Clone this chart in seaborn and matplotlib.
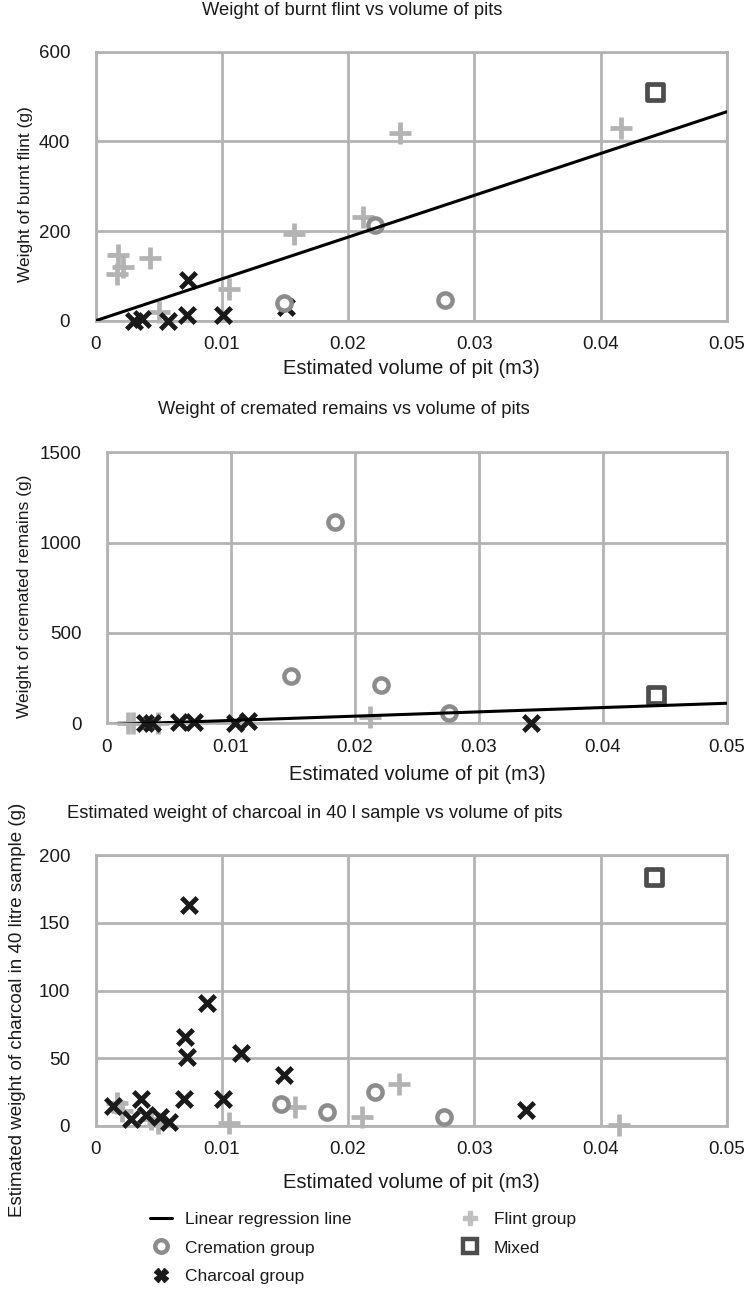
import numpy as np
import pandas as pd
import matplotlib
matplotlib.use("Agg")
import matplotlib.pyplot as plt
import seaborn as sns
from matplotlib.lines import Line2D

# ---------------- data ----------------
x_ticks = [0, 0.01, 0.02, 0.03, 0.04, 0.05]
x_tick_labels = ["0", "0.01", "0.02", "0.03", "0.04", "0.05"]

# Panel 1: burnt flint
p1_flint_vol = [0.0018, 0.0022, 0.0017, 0.0043, 0.0050, 0.0106, 0.0157, 0.0212, 0.0241, 0.0416]
p1_flint_wt = [146, 120, 105, 139, 20, 70, 194, 231, 418, 430]
p1_crem_vol = [0.0149, 0.0221, 0.0277]
p1_crem_wt = [40, 213, 47]
p1_char_vol = [0.0030, 0.0037, 0.0057, 0.0072, 0.0073, 0.0101, 0.0151]
p1_char_wt = [0, 3, 0, 13, 90, 13, 30]
p1_mixed_vol = [0.0443]
p1_mixed_wt = [511]
p1_reg_x = [0.0, 0.05]
p1_reg_y = [0.0, 466.0]
p1_yticks = [0, 200, 400, 600]

# Panel 2: cremated remains
p2_flint_vol = [0.0017, 0.0021, 0.0041, 0.0212]
p2_flint_wt = [0, 0, 3, 37]
p2_crem_vol = [0.0148, 0.0184, 0.0221, 0.0276]
p2_crem_wt = [262, 1116, 212, 55]
p2_char_vol = [0.0031, 0.0036, 0.0058, 0.0070, 0.0103, 0.0114, 0.0342]
p2_char_wt = [0, 3, 5, 5, 0, 10, 0]
p2_mixed_vol = [0.0443]
p2_mixed_wt = [157]
p2_reg_x = [0.0, 0.05]
p2_reg_y = [-8.0, 111.0]
p2_yticks = [0, 500, 1000, 1500]

# Panel 3: charcoal
p3_flint_vol = [0.0017, 0.0021, 0.0044, 0.0049, 0.0106, 0.0158, 0.0211, 0.0240, 0.0415]
p3_flint_wt = [17, 11, 5, 2, 2, 14, 7, 31, 1]
p3_crem_vol = [0.0147, 0.0183, 0.0221, 0.0276]
p3_crem_wt = [16, 10, 25, 7]
p3_char_vol = [0.0014, 0.0028, 0.0036, 0.0040, 0.0051, 0.0058, 0.0070,
               0.0072, 0.0071, 0.0074, 0.0088, 0.0101, 0.0115, 0.0149, 0.0341]
p3_char_wt = [15, 5, 20, 8, 7, 3, 20, 51, 66, 163, 91, 20, 54, 38, 12]
p3_mixed_vol = [0.0442]
p3_mixed_wt = [184]
p3_yticks = [0, 50, 100, 150, 200]

titles = ["Weight of burnt flint vs volume of pits",
          "Weight of cremated remains vs volume of pits",
          "Estimated weight of charcoal in 40 l sample vs volume of pits"]
ylabels = ["Weight of burnt flint (g)",
           "Weight of cremated remains (g)",
           "Estimated weight of charcoal in 40 litre sample (g)"]
xlabel = "Estimated volume of pit (m3)"
legend_labels = ["Linear regression line", "Cremation group", "Charcoal group",
                 "Flint group", "Mixed"]

# ---------------- style ----------------
sns.set_theme(style="white")
plt.rcParams['font.family'] = ['Liberation Sans', 'DejaVu Sans']
TXT = "#1a1a1a"
GRID = "#b3b3b3"
FLINT = "#b3b3b3"
CREM = "#8c8c8c"
CHAR = "#1a1a1a"
MIXED = "#4d4d4d"

W, H = 745, 1291
fig = plt.figure(figsize=(W / 100, H / 100), dpi=100)


def axes_px(l, t, r, b):
    return fig.add_axes([l / W, 1 - b / H, (r - l) / W, (b - t) / H])


def draw_points(ax, fv, fw, cv, cw, hv, hw, mv, mw):
    sns.scatterplot(x=hv, y=hw, ax=ax, marker="x", s=125, color=CHAR,
                    linewidth=3.5, zorder=4)
    sns.scatterplot(x=fv, y=fw, ax=ax, marker="+", s=240, color=FLINT,
                    linewidth=3.4, zorder=3)
    sns.scatterplot(x=cv, y=cw, ax=ax, marker="o", s=105, facecolor="white",
                    edgecolor=CREM, linewidth=3.2, zorder=5)
    sns.scatterplot(x=mv, y=mw, ax=ax, marker="s", s=120, facecolor="white",
                    edgecolor=MIXED, linewidth=3.4, zorder=5)


def style_axes(ax, box, yticks, title, title_px, ylabel, ylabel_px, ylabel_size, xlabel_y):
    l, t, r, b = box
    ax.set_xlim(0, 0.05)
    ax.set_ylim(yticks[0], yticks[-1])
    ax.set_xticks(x_ticks)
    ax.set_xticklabels(x_tick_labels)
    ax.set_yticks(yticks)
    ax.set_yticklabels([str(v) for v in yticks])
    ax.grid(True, color=GRID, linewidth=2.0)
    ax.set_axisbelow(True)
    for sp in ax.spines.values():
        sp.set_color(GRID)
        sp.set_linewidth(2.0)
    ax.tick_params(axis="y", length=0, pad=18.5, labelsize=13.5, labelcolor=TXT)
    ax.tick_params(axis="x", length=0, pad=11, labelsize=13.5, labelcolor=TXT)
    ax.set_xlabel(xlabel, fontsize=14.5, color=TXT)
    ax.xaxis.label.set_va("center")
    ax.xaxis.set_label_coords(0.5, (b - xlabel_y) / (b - t))
    ax.set_ylabel(ylabel, fontsize=ylabel_size, color=TXT)
    ax.yaxis.label.set_va("center")
    ax.yaxis.set_label_coords((ylabel_px[0] - l) / (r - l), (b - ylabel_px[1]) / (b - t))
    tt = ax.set_title(title, fontsize=13.2, color=TXT,
                      x=(title_px[0] - l) / (r - l), y=(b - title_px[1]) / (b - t))
    tt.set_va("center")


# Panel 1
box1 = (95.7, 51.7, 726.7, 320.7)
ax1 = axes_px(*box1)
draw_points(ax1, p1_flint_vol, p1_flint_wt, p1_crem_vol, p1_crem_wt,
            p1_char_vol, p1_char_wt, p1_mixed_vol, p1_mixed_wt)
sns.lineplot(x=p1_reg_x, y=p1_reg_y, ax=ax1, color="black", linewidth=2.2, zorder=6)
style_axes(ax1, box1, p1_yticks, titles[0], (352, 19), ylabels[0], (25, 194), 12.5, 368)

# Panel 2
box2 = (107, 452.3, 727, 723.3)
ax2 = axes_px(*box2)
draw_points(ax2, p2_flint_vol, p2_flint_wt, p2_crem_vol, p2_crem_wt,
            p2_char_vol, p2_char_wt, p2_mixed_vol, p2_mixed_wt)
sns.lineplot(x=p2_reg_x, y=p2_reg_y, ax=ax2, color="black", linewidth=2.2, zorder=6)
style_axes(ax2, box2, p2_yticks, titles[1], (344, 418), ylabels[1], (25, 596), 12.5, 775)

# Panel 3
box3 = (95.7, 855, 726.7, 1126)
ax3 = axes_px(*box3)
draw_points(ax3, p3_flint_vol, p3_flint_wt, p3_crem_vol, p3_crem_wt,
            p3_char_vol, p3_char_wt, p3_mixed_vol, p3_mixed_wt)
style_axes(ax3, box3, p3_yticks, titles[2], (315, 822), ylabels[2], (18, 1010), 13.5, 1183)

for ax in (ax1, ax2, ax3):
    for c in ax.collections:
        c.set_clip_on(False)

# Legend
handles = [
    Line2D([], [], color="black", linewidth=2.2),
    Line2D([], [], linestyle="none", marker="o", markersize=9, markerfacecolor="white",
           markeredgecolor=CREM, markeredgewidth=3.2),
    Line2D([], [], linestyle="none", marker="X", markersize=10, color=CHAR),
    Line2D([], [], linestyle="none", marker="P", markersize=10, color="#c0c0c0"),
    Line2D([], [], linestyle="none", marker="s", markersize=10, markerfacecolor="white",
           markeredgecolor=MIXED, markeredgewidth=3.2),
]
fig.legend(handles, legend_labels, ncol=2, loc="upper left",
           bbox_to_anchor=(141 / W, 1 - 1203 / H), frameon=False,
           fontsize=12.5, handlelength=1.27, handletextpad=0.75,
           columnspacing=6.2, labelspacing=0.78, borderpad=0, labelcolor=TXT)

fig.savefig("out.png", dpi=100)
